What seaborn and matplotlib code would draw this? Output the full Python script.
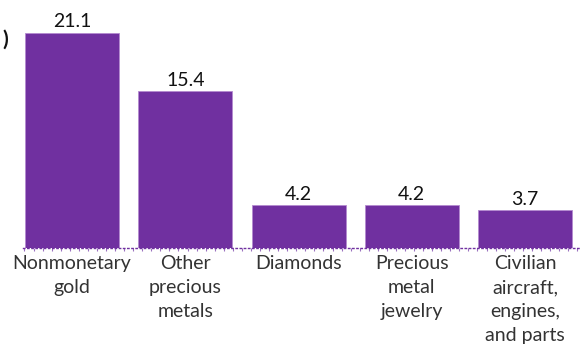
import matplotlib
matplotlib.use("Agg")
import matplotlib.pyplot as plt
import seaborn as sns
import pandas as pd
import numpy as np

categories = ["Nonmonetary\ngold", "Other\nprecious\nmetals", "Diamonds",
              "Precious\nmetal\njewelry", "Civilian\naircraft,\nengines,\nand parts"]
values = [21.1, 15.4, 4.2, 4.2, 3.7]
value_labels = ["21.1", "15.4", "4.2", "4.2", "3.7"]

sns.set_theme(style="white")
plt.rcParams['font.family'] = ['Lato', 'DejaVu Sans']

purple = "#7030A0"
df = pd.DataFrame({"cat": categories, "val": values})

fig = plt.figure(figsize=(5.81, 3.6), dpi=100)
W, H = 581, 360
ax = fig.add_axes([23 / W, (H - 248) / H, (581 - 23) / W, (248 - 14) / H])
sns.barplot(data=df, x="cat", y="val", color=purple, saturation=1, width=0.83,
            ax=ax, edgecolor="#b48ad0", linewidth=0.6)

ax.set_xlim(-0.433, 4.494)
ax.set_ylim(0, 22.96)
ax.set_xlabel("")
ax.set_ylabel("")
ax.set_yticks([])
for s in ["top", "right", "left"]:
    ax.spines[s].set_visible(False)
ax.spines["bottom"].set_color(purple)
ax.spines["bottom"].set_linestyle((0, (1, 2)))
ax.spines["bottom"].set_linewidth(1.0)

ax.set_xticks(range(len(categories)))
ax.set_xticklabels(categories, fontsize=14, color="#333333", linespacing=1.5)
ax.tick_params(axis="x", which="major", bottom=False, length=0, pad=5)
ax.set_xticks(np.arange(-0.42, 4.5, 0.08), minor=True)
ax.tick_params(axis="x", which="minor", bottom=True, length=2.5, width=0.8,
               color="#9a70bf")

for i, (v, lab) in enumerate(zip(values, value_labels)):
    ax.text(i, v + 0.25, lab, ha="center", va="bottom", fontsize=14, color="#111111")

fig.text(2 / W, 1 - 40 / H, ")", ha="left", va="center", fontsize=15,
         color="#111111", fontweight="bold")

fig.savefig("out.png", dpi=100)
